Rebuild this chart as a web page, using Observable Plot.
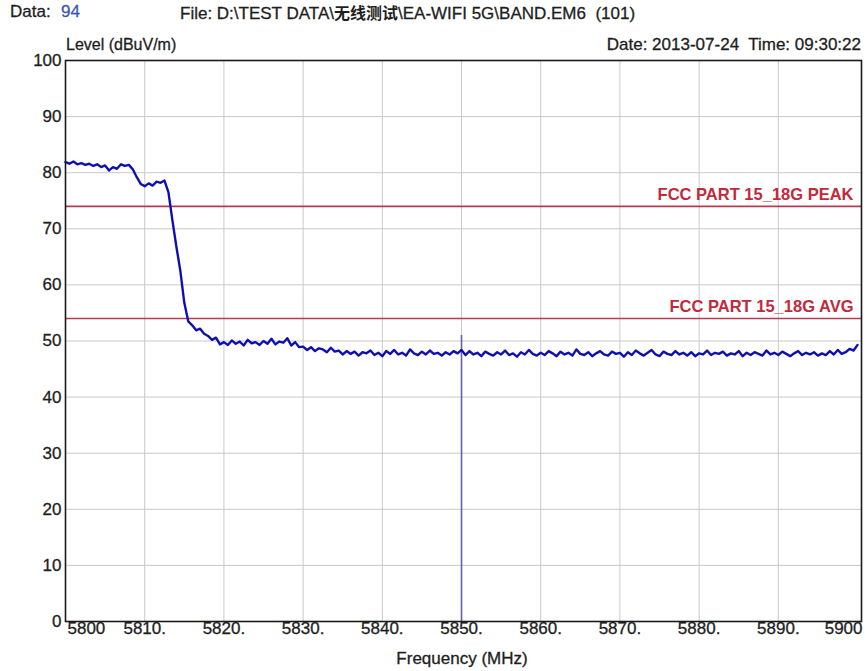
<!DOCTYPE html>
<html>
<head>
<meta charset="utf-8">
<script src="https://cdn.jsdelivr.net/npm/d3@7"></script>
<script src="https://cdn.jsdelivr.net/npm/@observablehq/plot@0.6"></script>
<style>
  body { margin: 0; background: #fff; }
  #wrap { position: relative; width: 866px; height: 671px; overflow: hidden; font-family: "Liberation Sans", Arial, sans-serif; color: #1e1e1e; }
  .t { position: absolute; font-size: 17px; line-height: 20px; white-space: pre; -webkit-text-stroke: 0.3px currentColor; }
  .cjk { font-family: "Noto Sans CJK SC", sans-serif; font-weight: 700; font-size: 16px; -webkit-text-stroke: 0; }
  #wrap svg g[aria-label$="tick label"] text, #wrap svg g.lab text { stroke: #1e1e1e; stroke-width: 0.3px; }
</style>
</head>
<body>
<div id="wrap"></div>
<script>
// ---- data ----
const freqStart = 5800;   // MHz, first sweep point
const freqStep = 0.5;     // MHz between sweep points
const levels = [
  81.9, 81.6, 82.0, 81.5, 81.7, 81.4, 81.6, 81.2, 81.5, 81.0, 81.3, 80.4, 81.0, 80.7, 81.5, 81.2, 81.4,
  80.6, 79.2, 78.0, 77.6, 78.1, 77.7, 78.4, 78.2, 78.6, 76.5, 71.5, 66.8, 62.5, 56.8, 53.5, 52.8,
  51.9, 52.2, 51.3, 50.9, 50.2, 50.6, 49.4, 49.8,
  49.3, 50.1, 49.5, 49.9, 49.2, 50.2, 49.6, 49.8, 49.3, 50.0, 49.5, 50.4, 49.4, 49.9, 49.7, 50.5, 49.2, 49.8, 48.9,
  49.0,
  48.4, 48.9, 48.2, 48.7, 48.5, 48.0, 48.8, 48.1, 48.3,
  47.6, 48.2, 47.7, 48.1, 47.4, 48.0, 47.8, 48.3, 47.5, 47.9, 47.3, 48.2, 47.7, 48.4, 47.6, 47.9,
  47.4, 48.5, 47.8, 47.5, 48.1, 47.6, 48.3, 47.7, 47.9, 47.4, 48.0, 47.6, 48.2, 47.8, 48.4,
  47.5, 48.2, 47.6, 47.9, 47.3, 48.1, 47.7, 47.4, 48.0, 47.6,
  48.3, 47.5, 47.8, 47.2, 48.0, 47.6, 48.4, 47.7, 47.4, 47.9,
  47.5, 48.2, 47.8, 47.3, 48.1, 47.6, 47.9, 47.4, 48.5, 47.7,
  47.5, 48.0, 47.3, 47.8, 48.2, 47.6, 47.4, 48.1, 47.7, 47.9,
  47.2, 48.0, 47.5, 48.3, 47.8, 47.4, 47.9, 48.4, 47.6, 47.3,
  48.1, 47.7, 47.5, 48.2, 47.6, 47.9, 47.4, 48.0, 47.3, 47.8,
  47.6, 48.3, 47.5, 47.9, 47.7, 48.1, 47.4, 47.8, 47.6, 48.2,
  47.3, 47.9, 47.5, 48.0, 47.7, 47.4, 48.3, 47.6, 47.9, 47.5,
  48.1, 47.7, 47.3, 47.8, 48.2, 47.5, 47.9, 47.6, 48.0, 47.4,
  47.8, 47.5, 48.2, 47.6, 48.4, 47.7, 48.0, 48.6, 48.3,
  49.3
];
const limitNames = ["FCC PART 15_18G PEAK", "FCC PART 15_18G AVG"];
const limitValues = [74, 54];
const markerFreq = 5850;
const markerLevel = 51;
const xTicks = [5800, 5810, 5820, 5830, 5840, 5850, 5860, 5870, 5880, 5890, 5900];
const xTickLabels = ["5800", "5810.", "5820.", "5830.", "5840.", "5850.", "5860.", "5870.", "5880.", "5890.", "5900"];
const yTicks = [0, 10, 20, 30, 40, 50, 60, 70, 80, 90, 100];

// ---- tables ----
const trace = levels.map((v, i) => ({f: freqStart + i * freqStep, v}));
const limits = limitNames.map((n, i) => ({name: n, value: limitValues[i]}));
const xLab = xTicks.map((t, i) => ({t, label: xTickLabels[i]}));
const innerLab = xLab.slice(1, -1);

const font = '"Liberation Sans", Arial, sans-serif';
const chart = Plot.plot({
  width: 866, height: 671,
  marginTop: 60, marginBottom: 50, marginLeft: 65, marginRight: 5,
  x: {domain: [5800, 5900.5], axis: null},
  y: {domain: [0, 100], axis: null},
  style: {fontFamily: font, background: "#fff", color: "#1e1e1e"},
  marks: [
    Plot.gridX(xTicks.slice(1, -1), {stroke: "#c9c9c9", strokeOpacity: 1}),
    Plot.gridY(yTicks.slice(1, -1), {stroke: "#c9c9c9", strokeOpacity: 1}),
    Plot.ruleY(limits, {y: "value", stroke: "#b83a50", strokeWidth: 1.6}),
    Plot.text(limits, {y: "value", text: "name", frameAnchor: "right", textAnchor: "end", dx: -8, dy: -12,
      fill: "#c02a3c", fontSize: 16.5, fontWeight: "bold"}),
    Plot.ruleX([markerFreq], {y1: 0, y2: markerLevel, stroke: "#6262a6", strokeWidth: 1.6}),
    Plot.line(trace, {x: "f", y: "v", stroke: "#1212c8", strokeWidth: 2.4}),
    Plot.line(trace, {x: "f", y: "v", stroke: "#0a0a50", strokeWidth: 0.7, strokeOpacity: 0.6}),
    Plot.frame({stroke: "#1a1a1a", strokeWidth: 1.6}),
    Plot.axisY({ticks: yTicks, tickSize: 0, tickPadding: 4, fontSize: 17, label: null}),
    Plot.text(innerLab, {x: "t", text: "label", frameAnchor: "bottom", textAnchor: "middle",
      dy: 12, fontSize: 17, fill: "#1e1e1e", className: "lab"}),
    Plot.text(xLab.slice(0, 1), {x: "t", text: "label", frameAnchor: "bottom", textAnchor: "start",
      dx: 2, dy: 12, fontSize: 17, fill: "#1e1e1e", className: "lab"}),
    Plot.text(xLab.slice(-1), {x: "t", text: "label", frameAnchor: "bottom", textAnchor: "end",
      dx: 5, dy: 12, fontSize: 17, fill: "#1e1e1e", className: "lab"})
  ]
});

const wrap = document.getElementById("wrap");
wrap.appendChild(chart);
const add = (html, css) => {
  const d = document.createElement("div");
  d.className = "t";
  d.innerHTML = html;
  Object.assign(d.style, css);
  wrap.appendChild(d);
};
add('Data:', {left: "10px", top: "2px"});
add('94', {left: "61px", top: "2px", color: "#3858b0"});
add('File: D:\\TEST DATA\\<span class="cjk">无线测试</span>\\EA-WIFI 5G\\BAND.EM6  (101)', {left: "180px", top: "2px"});
add('Level (dBuV/m)', {left: "66px", top: "35px", fontSize: "16px"});
add('Date: 2013-07-24  Time: 09:30:22', {right: "5px", top: "35px"});
add('Frequency (MHz)', {left: "462px", top: "649px", transform: "translateX(-50%)"});
</script>
</body>
</html>
